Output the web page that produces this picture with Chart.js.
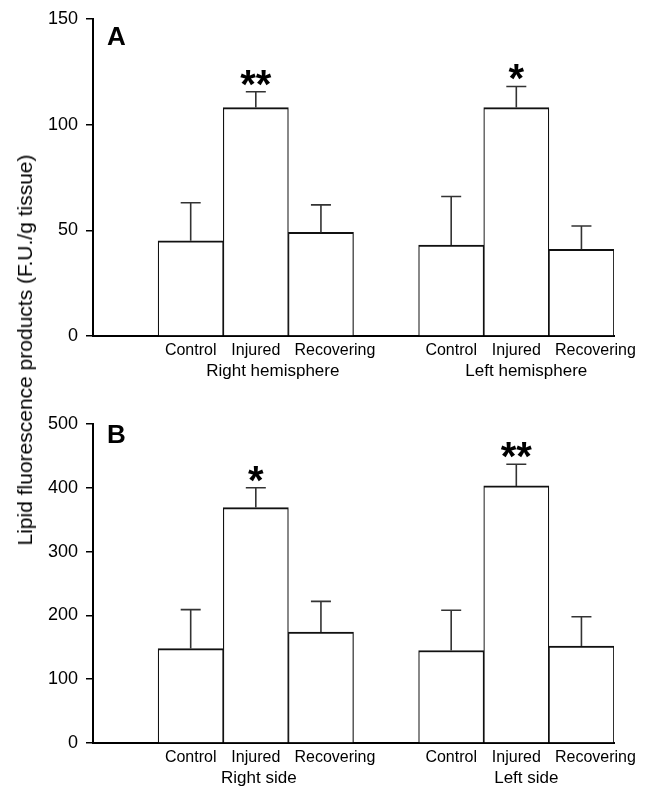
<!DOCTYPE html>
<html>
<head>
<meta charset="utf-8">
<script src="https://cdn.jsdelivr.net/npm/chart.js@4"></script>
<style>
  body { margin: 0; background: #fff; }
  #wrap { position: relative; width: 646px; height: 789px; font-family: "Liberation Sans", Arial, sans-serif; }
  #graphA { position: absolute; left: 0; top: 0; }
  #graphB { position: absolute; left: 0; top: 390px; }
  #ytitle {
    position: absolute; left: 25px; top: 350px; white-space: nowrap;
    font-size: 21px; color: #000;
    transform: translate(-50%, -50%) rotate(-90deg);
  }
</style>
</head>
<body>
<div id="wrap">
  <canvas id="graphA" width="646" height="390"></canvas>
  <canvas id="graphB" width="646" height="399"></canvas>
  <div id="ytitle">Lipid fluorescence products (F.U./g tissue)</div>
</div>
<script>
// categories (empty slots keep the gap before each group)
const categories = ['', 'Control', 'Injured', 'Recovering', '', 'Control', 'Injured', 'Recovering'];

// panel A - hemispheres
const hemisphereMeans  = [null, 45, 108, 49, null, 43, 108, 41];
const hemisphereErrors = [null, 18, 7.5, 13, null, 23, 10, 11];
const hemisphereStars  = ['', '', '**', '', '', '', '*', ''];
const hemisphereGroups = ['Right hemisphere', 'Left hemisphere'];
const hemisphereTicks  = [0, 50, 100, 150];

// panel B - sides
const sideMeans  = [null, 148, 369, 174, null, 145, 403, 152];
const sideErrors = [null, 61, 31, 48, null, 63, 34, 46];
const sideStars  = ['', '', '*', '', '', '', '**', ''];
const sideGroups = ['Right side', 'Left side'];
const sideTicks  = [0, 100, 200, 300, 400, 500];

const FONT = '"Liberation Sans", Arial, sans-serif';

// error bars, asterisks, group names and panel letter
const extras = {
  id: 'extras',
  beforeDraw(chart) {
    // the original spaces the last label of each group a bit to the right
    const items = chart.scales.x.getLabelItems();
    items.forEach(function(it) {
      if (it.label === 'Recovering' && !it.moved) {
        it.options.translation[0] += 14;
        it.moved = true;
      }
    });
  },
  afterDatasetsDraw(chart, args, opts) {
    const ctx = chart.ctx;
    const y = chart.scales.y;
    const x = chart.scales.x;
    const meta = chart.getDatasetMeta(0);
    ctx.save();
    opts.means.forEach(function(m, i) {
      if (m == null) return;
      const px = meta.data[i].x;
      const y0 = y.getPixelForValue(m);
      const y1 = y.getPixelForValue(m + opts.errors[i]);
      ctx.strokeStyle = '#333';
      ctx.lineWidth = 1.6;
      ctx.beginPath();
      ctx.moveTo(px, y0);
      ctx.lineTo(px, y1);
      ctx.moveTo(px - 10, y1);
      ctx.lineTo(px + 10, y1);
      ctx.stroke();
      if (opts.stars[i]) {
        ctx.fillStyle = '#000';
        ctx.font = 'bold 40px ' + FONT;
        ctx.textAlign = 'center';
        ctx.textBaseline = 'alphabetic';
        ctx.fillText(opts.stars[i], px, y1 + 6);
      }
    });
    // group names under the tick labels
    ctx.fillStyle = '#000';
    ctx.font = '17px ' + FONT;
    ctx.textAlign = 'center';
    ctx.textBaseline = 'middle';
    opts.groups.forEach(function(g, k) {
      const gx = x.getPixelForValue(2 + k * 4) + opts.groupShift[k];
      ctx.fillText(g, gx, chart.chartArea.bottom + 35);
    });
    // panel letter
    ctx.font = 'bold 26px ' + FONT;
    ctx.textAlign = 'left';
    ctx.textBaseline = 'alphabetic';
    ctx.fillText(opts.letter, chart.chartArea.left + 14, chart.chartArea.top + opts.letterDrop);
    ctx.restore();
  }
};

function make_panel(id, means, errors, stars, groups, ticks, letter, opt) {
  const ctx = document.getElementById(id);
  return new Chart(ctx, {
    type: 'bar',
    data: {
      labels: categories,
      datasets: [{
        label: letter,
        data: means,
        backgroundColor: '#fff',
        borderColor: '#111',
        borderWidth: { top: 2, left: 1.2, right: 1.2, bottom: 0 },
        barPercentage: 1,
        categoryPercentage: 1
      }]
    },
    options: {
      responsive: false,
      animation: false,
      events: [],
      layout: { padding: { top: opt.top, right: 32, left: 0, bottom: 0 } },
      plugins: {
        legend: { display: false },
        tooltip: { enabled: false },
        extras: {
          means: means, errors: errors, stars: stars, groups: groups,
          groupShift: opt.groupShift, letter: letter, letterDrop: opt.letterDrop
        }
      },
      scales: {
        x: {
          afterFit: function(s) { s.height = opt.xHeight; },
          grid: { display: true, drawOnChartArea: false, drawTicks: false, color: '#000' },
          border: { display: true, color: '#000', width: 2 },
          ticks: { color: '#000', padding: 5, maxRotation: 0, autoSkip: false, font: { family: FONT, size: 16 } }
        },
        y: {
          min: ticks[0],
          max: ticks[ticks.length - 1],
          afterFit: function(s) { s.width = 93; },
          afterBuildTicks: function(s) { s.ticks = ticks.map(function(v) { return { value: v }; }); },
          grid: { display: true, drawOnChartArea: false, drawTicks: true, tickLength: 7, color: '#000', lineWidth: 1.5 },
          border: { display: true, color: '#000', width: 2 },
          ticks: { color: '#000', padding: 8, font: { family: FONT, size: 18 } }
        }
      }
    },
    plugins: [extras]
  });
}

make_panel('graphA', hemisphereMeans, hemisphereErrors, hemisphereStars, hemisphereGroups, hemisphereTicks, 'A',
  { top: 16, xHeight: 54, groupShift: [17, 10], letterDrop: 26 });
make_panel('graphB', sideMeans, sideErrors, sideStars, sideGroups, sideTicks, 'B',
  { top: 34, xHeight: 46, groupShift: [3, 10], letterDrop: 19 });
</script>
</body>
</html>
